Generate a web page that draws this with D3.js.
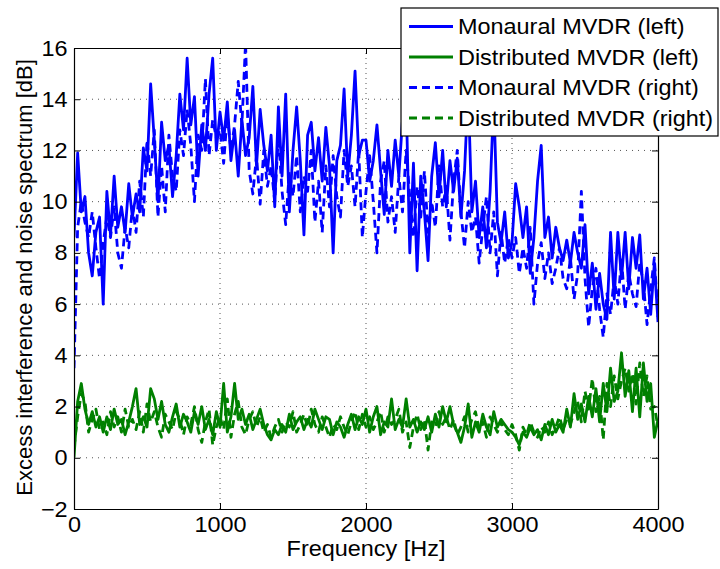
<!DOCTYPE html>
<html>
<head>
<meta charset="utf-8">
<script src="https://cdn.jsdelivr.net/npm/d3@7"></script>
<style>
  html, body { margin: 0; padding: 0; background: #fff; }
  svg { display: block; }
  text { font-family: "Liberation Sans", Arial, Helvetica, sans-serif; fill: #000; }
</style>
</head>
<body>
<svg id="chart" width="720" height="569"></svg>
<script>
// Frequency bins (Hz): one value every 25 Hz from 0 to 4000
const freqStep = 25;
const freqMax = 4000;

// Excess interference and noise spectrum [dB] per bin
const monoLeft = [
  8.6, 11.9, 9.6, 10.2, 8.0, 7.1, 8.8, 9.4, 6.0, 10.4,
  8.7, 11.0, 9.0, 9.8, 8.8, 10.7, 9.4, 10.3, 9.6, 12.1,
  11.2, 14.6, 12.4, 10.0, 13.1, 11.6, 12.2, 10.2, 11.8, 14.2,
  12.8, 15.6, 13.0, 14.1, 11.0, 13.0, 12.0, 14.2, 15.6, 12.0,
  13.5, 12.4, 13.9, 11.6, 12.8, 11.0, 13.2, 11.8, 12.5, 14.5,
  11.4, 13.6, 12.2, 11.2, 12.6, 9.8, 13.7, 11.0, 14.2, 9.6,
  12.0, 13.7, 11.6, 8.7, 12.6, 13.1, 11.2, 12.5, 10.8, 12.9,
  11.4, 8.0, 11.6, 12.2, 14.4, 11.0, 12.6, 15.1, 11.8, 12.4,
  12.4, 10.8, 11.6, 13.0, 11.2, 9.5, 12.0, 10.6, 12.4, 11.0,
  13.2, 14.0, 8.0, 11.5, 7.3, 11.0, 9.6, 7.7, 11.0, 12.3,
  10.2, 12.0, 9.8, 11.6, 10.4, 11.7, 9.4, 11.2, 14.4, 9.6,
  10.8, 8.6, 9.8, 8.2, 10.4, 14.0, 9.2, 8.4, 9.6, 7.8,
  8.4, 10.7, 9.8, 8.6, 9.8, 7.2, 8.6, 10.8, 12.2, 8.6,
  9.4, 7.8, 9.0, 8.2, 7.7, 8.5, 7.6, 8.8, 8.0, 7.4,
  9.1, 6.4, 7.6, 5.8, 7.2, 6.0, 5.4, 8.8, 6.2, 8.8,
  7.0, 8.8, 6.6, 8.6, 7.4, 8.7, 6.2, 7.4, 5.6, 7.6,
  5.3
];

const distLeft = [
  0.0, 2.2, 2.9, 1.9, 1.3, 1.8, 1.2, 1.6, 1.0, 1.6,
  1.1, 1.9, 1.3, 1.5, 0.9, 1.4, 2.0, 2.7, 1.3, 1.6,
  1.2, 2.7, 2.3, 1.5, 2.2, 1.3, 1.0, 1.6, 2.1, 1.2,
  1.7, 1.4, 1.0, 1.8, 1.3, 2.0, 1.1, 1.5, 0.9, 1.8,
  1.2, 2.9, 1.0, 1.6, 2.9, 1.5, 1.9, 1.3, 1.7, 1.1,
  1.5, 1.9, 1.3, 0.9, 0.7, 1.1, 0.9, 1.3, 1.0, 1.7,
  1.1, 1.4, 1.6, 1.1, 1.5, 1.2, 1.9, 1.5, 1.1, 1.6,
  1.5, 0.9, 1.4, 1.2, 0.8, 1.3, 1.7, 1.1, 1.6, 1.3,
  1.9, 1.0, 1.6, 2.0, 0.9, 1.4, 1.2, 2.3, 1.1, 1.5,
  1.2, 2.3, 1.2, 1.5, 1.0, 1.4, 1.1, 1.6, 1.0, 1.7,
  1.2, 2.0, 1.4, 2.0, 1.3, 1.0, 0.6, 1.2, 2.1, 0.8,
  1.4, 1.0, 1.7, 1.2, 0.9, 1.8, 1.2, 1.5, 1.3, 1.1,
  1.0, 0.8, 0.5, 1.0, 0.8, 1.2, 0.9, 1.1, 0.7, 1.3,
  0.9, 1.5, 1.0, 1.3, 1.0, 1.9, 1.2, 2.5, 1.5, 2.1,
  1.4, 2.4, 1.6, 2.7, 1.4, 2.9, 1.8, 3.5, 2.2, 2.6,
  4.1, 2.4, 3.4, 1.8, 3.5, 1.6, 3.7, 2.2, 2.9, 0.8,
  1.5
];

const monoRight = [
  3.5, 9.0, 10.0, 9.2, 8.6, 9.6, 8.2, 7.0, 8.4, 9.4,
  8.6, 9.8, 8.0, 7.4, 9.0, 8.2, 9.8, 8.8, 10.8, 9.4,
  12.4, 11.0, 12.8, 9.4, 11.4, 9.6, 12.6, 11.0, 10.4, 12.8,
  11.8, 13.6, 12.2, 10.0, 12.6, 12.0, 14.8, 11.8, 13.2, 12.5,
  12.8, 11.5, 13.4, 12.0, 13.0, 14.7, 13.0, 16.2, 11.2, 10.3,
  11.8, 9.9, 12.0, 10.6, 11.4, 10.0, 12.6, 10.4, 9.1, 11.2,
  10.2, 11.8, 9.6, 11.0, 10.4, 12.0, 9.2, 10.8, 8.8, 11.4,
  9.8, 11.8, 10.2, 9.4, 12.0, 10.6, 11.4, 9.8, 12.0, 8.6,
  10.4, 11.8, 10.0, 8.0, 10.8, 11.6, 9.2, 10.2, 8.8, 11.0,
  9.6, 12.0, 10.2, 8.6, 10.6, 9.4, 11.2, 8.8, 10.0, 9.0,
  11.4, 9.8, 10.6, 8.5, 10.8, 12.0, 9.6, 8.2, 10.0, 8.8,
  9.4, 7.6, 9.0, 10.2, 8.0, 9.6, 7.1, 8.8, 7.6, 8.6,
  7.8, 8.6, 7.2, 8.2, 7.4, 9.0, 6.0, 7.6, 8.4, 7.0,
  8.0, 6.8, 7.4, 8.2, 7.0, 6.6, 7.8, 6.2, 7.2, 10.4,
  7.0, 5.1, 6.6, 7.4, 5.8, 4.7, 6.4, 5.6, 7.0, 6.0,
  7.8, 5.8, 7.2, 6.4, 5.9, 7.6, 6.8, 5.2, 6.6, 7.8,
  5.5
];

const distRight = [
  0.4, 1.6, 2.5, 2.2, 1.0, 1.5, 1.9, 1.1, 1.4, 0.9,
  1.8, 1.2, 1.6, 1.0, 1.9, 1.2, 1.5, 1.1, 1.8, 1.0,
  2.1, 1.4, 1.8, 1.2, 0.8, 1.7, 1.4, 1.1, 1.8, 1.5,
  0.9, 1.6, 1.3, 2.0, 1.1, 0.6, 1.4, 1.9, 0.5, 1.2,
  1.6, 1.1, 2.3, 0.8, 1.7, 2.2, 1.2, 0.9, 1.5, 1.8,
  1.2, 1.6, 1.0, 1.3, 0.8, 1.2, 1.5, 1.0, 1.4, 1.2,
  1.8, 1.0, 1.3, 1.7, 1.2, 1.9, 1.3, 1.0, 1.6, 1.2,
  0.8, 1.3, 1.1, 1.6, 1.2, 0.9, 1.4, 1.8, 1.1, 1.7,
  1.2, 1.6, 1.1, 1.4, 1.8, 1.0, 1.6, 1.3, 1.5, 1.9,
  1.0, 1.4, 0.4, 1.2, 1.7, 1.1, 1.5, 0.3, 1.4, 1.2,
  1.8, 1.3, 1.6, 1.1, 1.5, 0.9, 1.2, 1.6, 1.0, 1.5,
  1.8, 1.1, 1.4, 0.8, 1.6, 1.3, 1.0, 1.4, 1.1, 0.9,
  1.3, 0.9, 0.3, 1.2, 0.9, 1.4, 1.0, 0.8, 1.2, 1.0,
  1.4, 0.9, 1.2, 1.6, 1.1, 1.5, 1.3, 1.8, 2.2, 1.4,
  2.6, 1.9, 3.1, 1.8, 2.4, 0.7, 2.9, 2.0, 3.2, 2.3,
  3.0, 3.5, 2.6, 3.3, 2.1, 3.7, 2.4, 3.2, 1.9, 2.0,
  1.2
];

const seriesNames = [
  "Monaural MVDR (left)",
  "Distributed MVDR (left)",
  "Monaural MVDR (right)",
  "Distributed MVDR (right)"
];
const seriesValues = [monoLeft, distLeft, monoRight, distRight];
const seriesColors = ["#0000ff", "#008000", "#0000ff", "#008000"];
const seriesDashed = [false, false, true, true];

const xTicks = [0, 1000, 2000, 3000, 4000];
const yTicks = [-2, 0, 2, 4, 6, 8, 10, 12, 14, 16];
const xLabel = "Frequency [Hz]";
const yLabel = "Excess interference and noise spectrum [dB]";

const freqs = d3.range(0, freqMax + 1, freqStep);

const svg = d3.select("#chart");
const margin = { left: 74, right: 62, top: 48, bottom: 60 };
const W = 720, H = 569;
const x0 = margin.left, x1 = W - margin.right;
const y0 = margin.top, y1 = H - margin.bottom;

const x = d3.scaleLinear().domain([0, 4000]).range([x0, x1]);
const y = d3.scaleLinear().domain([-2, 16]).range([y1, y0]);

const fontSize = 22;
const wide = "scale(1.065,1)";   // horizontal text is set slightly wide

// dotted grid
const grid = svg.append("g");
grid.selectAll("line.gx").data(xTicks.slice(1, -1)).join("line")
  .attr("x1", d => x(d)).attr("x2", d => x(d))
  .attr("y1", y0).attr("y2", y1)
  .attr("stroke", "#555").attr("stroke-width", 1)
  .attr("stroke-dasharray", "1,4");
grid.selectAll("line.gy").data(yTicks.slice(1, -1)).join("line")
  .attr("x1", x0).attr("x2", x1)
  .attr("y1", d => y(d)).attr("y2", d => y(d))
  .attr("stroke", "#555").attr("stroke-width", 1)
  .attr("stroke-dasharray", "1,5");

// data lines, clipped to the axes box
svg.append("clipPath").attr("id", "plotclip")
  .append("rect").attr("x", x0).attr("y", y0).attr("width", x1 - x0).attr("height", y1 - y0);

const line = d3.line().x((d, i) => x(freqs[i])).y(d => y(d));
const lines = svg.append("g").attr("clip-path", "url(#plotclip)");
seriesValues.forEach((vals, k) => {
  lines.append("path")
    .attr("d", line(vals))
    .attr("fill", "none")
    .attr("stroke", seriesColors[k])
    .attr("stroke-width", 2.8)
    .attr("stroke-linejoin", "round")
    .attr("stroke-dasharray", seriesDashed[k] ? "8,5" : null);
});

// axes with inward ticks on all four sides
const tickLen = 6;
const axB = svg.append("g").attr("transform", `translate(0,${y1})`)
  .call(d3.axisBottom(x).tickValues(xTicks).tickFormat(d3.format("d"))
    .tickSizeInner(-tickLen).tickSizeOuter(0).tickPadding(7));
const axT = svg.append("g").attr("transform", `translate(0,${y0})`)
  .call(d3.axisTop(x).tickValues(xTicks).tickSizeInner(-tickLen).tickSizeOuter(0).tickFormat(""));
const axL = svg.append("g").attr("transform", `translate(${x0},0)`)
  .call(d3.axisLeft(y).tickValues(yTicks).tickFormat(d3.format("d"))
    .tickSizeInner(-tickLen).tickSizeOuter(0).tickPadding(6));
const axR = svg.append("g").attr("transform", `translate(${x1},0)`)
  .call(d3.axisRight(y).tickValues(yTicks).tickSizeInner(-tickLen).tickSizeOuter(0).tickFormat(""));

[axB, axT, axL, axR].forEach(a => {
  a.select(".domain").attr("stroke", "#000").attr("stroke-width", 1.2);
  a.selectAll(".tick line").attr("stroke", "#000").attr("stroke-width", 1);
  a.selectAll("text").attr("font-size", fontSize)
    .attr("font-family", "'Liberation Sans', Arial, sans-serif").attr("fill", "#000")
    .attr("transform", wide);
});
axB.selectAll("text").attr("dy", "0.71em");

// axis labels
svg.append("g").attr("transform", `translate(${(x0 + x1) / 2},556) ${wide}`)
  .append("text").attr("text-anchor", "middle").attr("font-size", fontSize).text(xLabel);
svg.append("text")
  .attr("transform", `translate(32,${(y0 + y1) / 2 - 1}) rotate(-90)`)
  .attr("text-anchor", "middle").attr("font-size", fontSize).text(yLabel);

// legend
const leg = svg.append("g");
const legX = 401, legY = 8, legW = 317, legH = 128;
leg.append("rect").attr("x", legX).attr("y", legY).attr("width", legW).attr("height", legH)
  .attr("fill", "#fff").attr("stroke", "#000").attr("stroke-width", 1.2);
const rowY = [26.5, 57, 87.5, 118];
seriesNames.forEach((name, k) => {
  leg.append("line")
    .attr("x1", 409).attr("x2", 453).attr("y1", rowY[k]).attr("y2", rowY[k])
    .attr("stroke", seriesColors[k]).attr("stroke-width", 2.8)
    .attr("stroke-dasharray", seriesDashed[k] ? "8,5" : null);
  leg.append("g").attr("transform", `translate(458,${rowY[k]}) ${wide}`)
    .append("text").attr("dy", "0.36em").attr("font-size", fontSize).text(name);
});
</script>
</body>
</html>
